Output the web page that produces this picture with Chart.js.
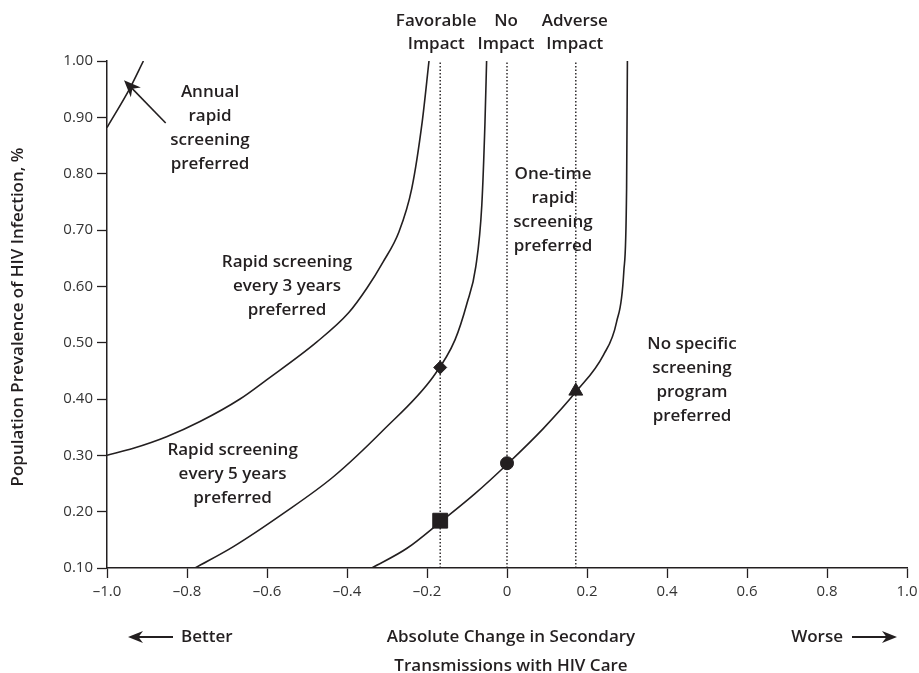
<!DOCTYPE html>
<html>
<head>
<meta charset="utf-8">
<script src="https://cdn.jsdelivr.net/npm/chart.js@4.4.1/dist/chart.umd.min.js"></script>
<style>
    html, body { margin: 0; padding: 0; background: #fff; }
    canvas { display: block; }
</style>
</head>
<body>
<canvas id="myChart" width="919" height="673"></canvas>
<script>
// threshold curves
const curveAnnual = [
    { x: -1.0, y: 0.882 },
    { x: -0.9425, y: 0.952 },
    { x: -0.909, y: 1.0 },
];
const curve3yr = [
    { x: -1.0, y: 0.30 },
    { x: -0.934, y: 0.3125 },
    { x: -0.851, y: 0.333 },
    { x: -0.7675, y: 0.36 },
    { x: -0.6675, y: 0.40 },
    { x: -0.601, y: 0.434 },
    { x: -0.476, y: 0.501 },
    { x: -0.396, y: 0.553 },
    { x: -0.35, y: 0.597 },
    { x: -0.31, y: 0.643 },
    { x: -0.27, y: 0.697 },
    { x: -0.238, y: 0.774 },
    { x: -0.212, y: 0.892 },
    { x: -0.195, y: 1.0 },
];
const curve5yr = [
    { x: -0.78, y: 0.10 },
    { x: -0.684, y: 0.138 },
    { x: -0.559, y: 0.197 },
    { x: -0.434, y: 0.262 },
    { x: -0.309, y: 0.345 },
    { x: -0.184, y: 0.44 },
    { x: -0.13, y: 0.505 },
    { x: -0.1, y: 0.57 },
    { x: -0.078, y: 0.635 },
    { x: -0.063, y: 0.744 },
    { x: -0.055, y: 0.892 },
    { x: -0.051, y: 1.0 },
];
const curveOneTime = [
    { x: -0.338, y: 0.10 },
    { x: -0.25, y: 0.135 },
    { x: -0.166, y: 0.182 },
    { x: -0.08, y: 0.232 },
    { x: 0.003, y: 0.286 },
    { x: 0.09, y: 0.347 },
    { x: 0.174, y: 0.414 },
    { x: 0.241, y: 0.478 },
    { x: 0.274, y: 0.537 },
    { x: 0.292, y: 0.626 },
    { x: 0.299, y: 0.774 },
    { x: 0.301, y: 1.0 },
];

// impact reference lines (x values)
const impactX = [-0.167, 0, 0.172];
const impactNames = [["Favorable", "Impact"], ["No", "Impact"], ["Adverse", "Impact"]];

// marked points
const diamondPt = [{ x: -0.167, y: 0.456 }];
const squarePt = [{ x: -0.167, y: 0.184 }];
const circlePt = [{ x: 0, y: 0.286 }];
const trianglePt = [{ x: 0.172, y: 0.414 }];

const xTickLabels = ["\u20131.0", "\u20130.8", "\u20130.6", "\u20130.4", "\u20130.2", "0", "0.2", "0.4", "0.6", "0.8", "1.0"];
const yTickLabels = ["0.10", "0.20", "0.30", "0.40", "0.50", "0.60", "0.70", "0.80", "0.90", "1.00"];

const regionLabels = [
    { x: -0.7425, y: 0.945, lines: ["Annual", "rapid", "screening", "preferred"] },
    { x: -0.55, y: 0.643, lines: ["Rapid screening", "every 3 years", "preferred"] },
    { x: -0.686, y: 0.309, lines: ["Rapid screening", "every 5 years", "preferred"] },
    { x: 0.115, y: 0.799, lines: ["One-time", "rapid", "screening", "preferred"] },
    { x: 0.4625, y: 0.4976, lines: ["No specific", "screening", "program", "preferred"] },
];
const annualArrow = { from: { x: -0.8533, y: 0.89 }, to: { x: -0.9575, y: 0.966 } };

const INK = "#231f20";
const FONT = '"Open Sans", "DejaVu Sans", sans-serif';

function arrowHead(ctx, tipX, tipY, angle, len, half) {
    ctx.save();
    ctx.translate(tipX, tipY);
    ctx.rotate(angle);
    ctx.beginPath();
    ctx.moveTo(0, 0);
    ctx.lineTo(-len, -half);
    ctx.lineTo(-len * 0.7, 0);
    ctx.lineTo(-len, half);
    ctx.closePath();
    ctx.fill();
    ctx.restore();
}

const annotations = {
    id: "annotations",
    afterDatasetsDraw(chart) {
        const { ctx, scales: { x, y } } = chart;
        ctx.save();
        ctx.fillStyle = INK;
        ctx.strokeStyle = INK;
        ctx.textAlign = "center";
        ctx.textBaseline = "middle";
        ctx.font = "600 17px " + FONT;

        // region labels
        regionLabels.forEach((lab) => {
            const px = x.getPixelForValue(lab.x);
            const py = y.getPixelForValue(lab.y);
            lab.lines.forEach((t, i) => ctx.fillText(t, px, py + i * 24));
        });

        // impact headers above the plot
        impactX.forEach((v, i) => {
            const px = x.getPixelForValue(v) + (i === 0 ? -4 : -1);
            ctx.fillText(impactNames[i][0], px, 21);
            ctx.fillText(impactNames[i][1], px, 44);
        });

        // arrow pointing at the annual curve
        const ax0 = x.getPixelForValue(annualArrow.from.x);
        const ay0 = y.getPixelForValue(annualArrow.from.y);
        const ax1 = x.getPixelForValue(annualArrow.to.x);
        const ay1 = y.getPixelForValue(annualArrow.to.y);
        const ang = Math.atan2(ay1 - ay0, ax1 - ax0);
        ctx.lineWidth = 1.6;
        ctx.beginPath();
        ctx.moveTo(ax0, ay0);
        ctx.lineTo(ax1 - Math.cos(ang) * 8, ay1 - Math.sin(ang) * 8);
        ctx.stroke();
        arrowHead(ctx, ax1, ay1, ang, 17, 7);

        // x axis title and direction hints
        const cx = (chart.chartArea.left + chart.chartArea.right) / 2;
        ctx.fillText("Absolute Change in Secondary", cx + 4, 637);
        ctx.fillText("Transmissions with HIV Care", cx + 4, 666);
        ctx.textAlign = "left";
        ctx.fillText("Better", 181, 637);
        ctx.textAlign = "right";
        ctx.fillText("Worse", 843, 637);

        ctx.lineWidth = 1.8;
        ctx.beginPath();
        ctx.moveTo(173, 637);
        ctx.lineTo(138, 637);
        ctx.moveTo(852, 637);
        ctx.lineTo(887, 637);
        ctx.stroke();
        arrowHead(ctx, 128, 637, Math.PI, 15, 6);
        arrowHead(ctx, 897, 637, 0, 15, 6);

        // y axis title
        ctx.translate(18, 317);
        ctx.rotate(-Math.PI / 2);
        ctx.textAlign = "center";
        ctx.fillText("Population Prevalence of HIV Infection, %", 0, 0);
        ctx.restore();
    },
};

const lineStyle = {
    showLine: true,
    borderColor: INK,
    borderWidth: 1.6,
    pointRadius: 0,
    cubicInterpolationMode: "monotone",
    fill: false,
};

const impactSets = impactX.map((v) => ({
    data: [{ x: v, y: 0.1 }, { x: v, y: 1.0 }],
    showLine: true,
    borderColor: INK,
    borderWidth: 1.4,
    borderDash: [1.5, 2],
    pointRadius: 0,
}));

const markerStyle = (style, r) => ({
    pointStyle: style,
    pointRadius: r,
    pointBackgroundColor: INK,
    pointBorderColor: INK,
    pointBorderWidth: 1,
    showLine: false,
});

const ctx = document.getElementById("myChart");
const myChart = new Chart(ctx, {
    type: "scatter",
    data: {
        datasets: [
            ...impactSets,
            { data: curveAnnual, ...lineStyle },
            { data: curve3yr, ...lineStyle },
            { data: curve5yr, ...lineStyle },
            { data: curveOneTime, ...lineStyle },
            { data: diamondPt, ...markerStyle("rectRot", 6.5) },
            { data: squarePt, ...markerStyle("rect", 10.5) },
            { data: circlePt, ...markerStyle("circle", 6.5) },
            { data: trianglePt, ...markerStyle("triangle", 8) },
        ],
    },
    options: {
        responsive: false,
        animation: false,
        devicePixelRatio: 1,
        layout: { padding: { top: 61, right: 12, left: 0, bottom: 0 } },
        plugins: {
            legend: { display: false },
            tooltip: { enabled: false },
        },
        scales: {
            x: {
                type: "linear",
                min: -1,
                max: 1,
                afterFit: (scale) => {
                    scale.height = 105;
                    scale.paddingLeft = 0;
                    scale.paddingRight = 0;
                },
                ticks: {
                    stepSize: 0.2,
                    autoSkip: false,
                    maxRotation: 0,
                    padding: 5,
                    color: "#333",
                    font: { family: FONT, size: 15 },
                    callback: (v, i) => xTickLabels[i],
                },
                grid: {
                    drawOnChartArea: false,
                    drawTicks: true,
                    tickLength: 10,
                    tickColor: INK,
                    tickWidth: 1.3,
                },
                border: { color: INK, width: 1.5 },
            },
            y: {
                type: "linear",
                min: 0.1,
                max: 1.0,
                afterFit: (scale) => {
                    scale.width = 107;
                    scale.paddingTop = 0;
                    scale.paddingBottom = 0;
                },
                ticks: {
                    stepSize: 0.1,
                    padding: 4,
                    color: "#333",
                    font: { family: FONT, size: 15 },
                    callback: (v, i) => yTickLabels[i],
                },
                grid: {
                    drawOnChartArea: false,
                    drawTicks: true,
                    tickLength: 10,
                    tickColor: INK,
                    tickWidth: 1.3,
                },
                border: { color: INK, width: 1.5 },
            },
        },
    },
    plugins: [annotations],
});
</script>
</body>
</html>
